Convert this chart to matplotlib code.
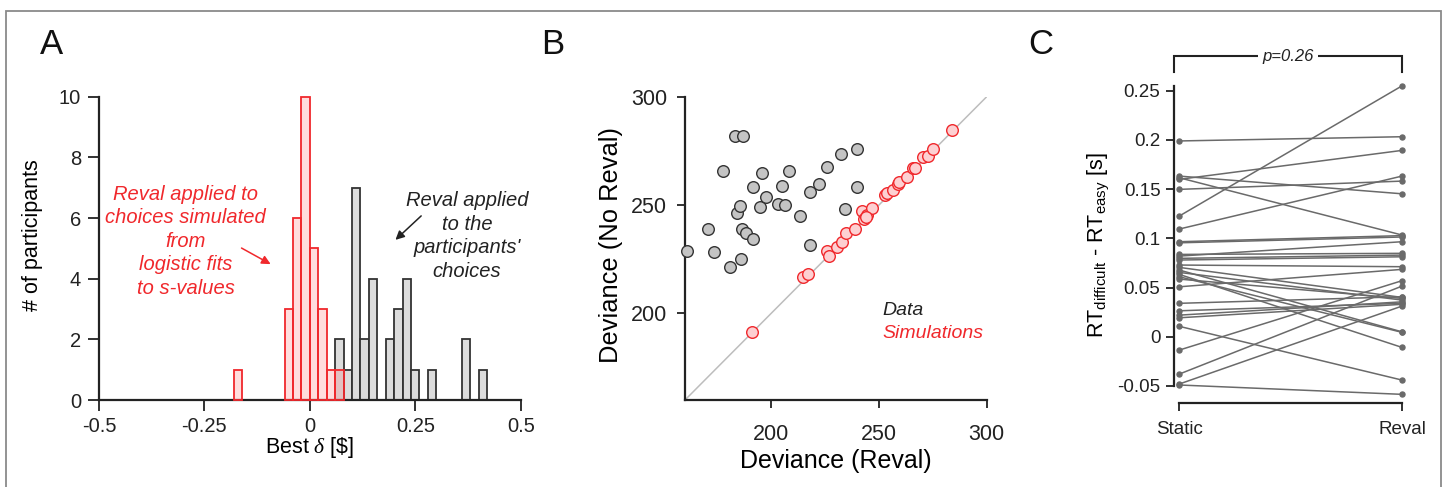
import numpy as np
import matplotlib
matplotlib.use("Agg")
import matplotlib.pyplot as plt
from matplotlib.patches import Rectangle

plt.rcParams['font.family'] = ['Liberation Sans', 'DejaVu Sans']
plt.rcParams['mathtext.fontset'] = 'custom'
plt.rcParams['mathtext.rm'] = 'Liberation Sans'
plt.rcParams['mathtext.it'] = 'Liberation Serif:italic'

# ---------------- data ----------------
# Panel A: histogram of best delta, bins of width 0.02 starting at -0.20
bin_start = -0.20
bin_width = 0.02
sim_counts = [0, 1, 0, 0, 0, 0, 0, 3, 6, 10, 5, 3, 1, 1, 0, 0, 0, 0, 0, 0,
              0, 0, 0, 0, 0, 0, 0, 0, 0, 0, 0]
data_counts = [0, 0, 0, 0, 0, 0, 0, 0, 0, 0, 0, 0, 0, 2, 1, 7, 2, 4, 0, 2,
               3, 4, 1, 0, 1, 0, 0, 0, 2, 0, 1]
delta_ticks = [-0.5, -0.25, 0, 0.25, 0.5]
delta_ticklabels = ['-0.5', '-0.25', '0', '0.25', '0.5']

# Panel B: deviance with and without revaluation
data_dev_reval = [160.8, 170.8, 173.3, 177.8, 180.9, 183.2, 187.1, 184.3, 185.5, 186.3,
                  188.2, 185.8, 191.4, 191.4, 194.8, 195.6, 197.6, 203.3, 204.9, 206.4,
                  208.3, 213.4, 218.0, 218.0, 222.3, 225.7, 232.2, 234.3, 239.7, 239.7]
data_dev_noreval = [228.9, 238.9, 228.3, 265.7, 221.5, 281.8, 281.8, 246.5, 249.7, 238.9,
                    237.2, 224.9, 258.2, 234.5, 248.9, 264.6, 253.5, 250.5, 258.8, 250.0,
                    265.7, 244.9, 256.0, 231.5, 259.5, 267.4, 273.4, 248.3, 276.0, 258.2]
sim_dev_reval = [190.9, 214.9, 217.2, 226.0, 227.0, 230.7, 232.7, 234.7, 238.9, 242.0,
                 243.1, 244.6, 246.6, 243.8, 252.8, 253.6, 256.7, 258.7, 259.3, 263.2,
                 266.0, 266.7, 270.6, 272.6, 274.9, 283.8]
sim_dev_noreval = [191.5, 216.9, 218.2, 228.9, 226.6, 230.8, 233.1, 237.2, 238.8, 247.4,
                   243.4, 245.4, 248.5, 244.5, 254.6, 255.4, 256.9, 259.5, 260.5, 263.1,
                   266.9, 267.2, 272.3, 272.6, 275.7, 284.6]

# Panel C: RT difference per participant
rt_static = [0.199, 0.1633, 0.1616, 0.160, 0.1498, 0.1227, 0.1095, 0.0966, 0.0955, 0.0837,
             0.082, 0.0797, 0.078, 0.0729, 0.0705, 0.0678, 0.0654, 0.0634, 0.061, 0.0586,
             0.0508, 0.034, 0.0264, 0.022, 0.0193, 0.0106, -0.0135, -0.0379, -0.048, -0.049]
rt_reval = [0.2033, 0.1453, 0.1034, 0.1894, 0.1582, 0.255, 0.1633, 0.1028, 0.1014, 0.0848,
            0.0966, 0.083, 0.0813, 0.0712, 0.040, 0.005, 0.0373, -0.0108, 0.0045, 0.039,
            0.0685, 0.0407, 0.034, 0.0355, 0.033, -0.044, 0.057, 0.0515, 0.0312, -0.0585]
conditions = ['Static', 'Reval']
p_text = 'p=0.26'

# ---------------- style ----------------
RED = '#f0282c'
DARK = '#222222'
W, H = 1447, 487

fig = plt.figure(figsize=(W / 100, H / 100), dpi=100)


def px_axes(l, r, b, t):
    return fig.add_axes([l / W, 1 - b / H, (r - l) / W, (b - t) / H])


def style_axes(ax, tick_len, labelsize):
    for s in ('top', 'right'):
        ax.spines[s].set_visible(False)
    for s in ('left', 'bottom'):
        ax.spines[s].set_linewidth(1.6)
        ax.spines[s].set_color(DARK)
    ax.tick_params(direction='out', length=tick_len, width=1.3, color=DARK,
                   labelsize=labelsize, labelcolor='#222222')


# ---------------- panel A ----------------
axA = px_axes(99, 520.7, 400, 96.7)
style_axes(axA, 8, 14.5)
edges = bin_start + bin_width * np.arange(len(data_counts))
dmask = np.array(data_counts) > 0
smask = np.array(sim_counts) > 0
axA.bar(edges[dmask], np.array(data_counts)[dmask], width=bin_width, align='edge',
        facecolor='#dcdcdc', edgecolor='#333333', linewidth=1.3, zorder=2, clip_on=False)
axA.bar(edges[smask], np.array(sim_counts)[smask], width=bin_width, align='edge',
        facecolor=(1.0, 0.35, 0.35, 0.2), edgecolor=RED, linewidth=1.3, zorder=3, clip_on=False)
axA.set_xlim(-0.5, 0.5)
axA.set_ylim(0, 10)
axA.set_xticks(delta_ticks)
axA.set_xticklabels(delta_ticklabels)
axA.set_yticks(range(0, 11, 2))
axA.tick_params(axis='x', pad=4)
axA.tick_params(axis='y', pad=5)
axA.set_ylabel('# of participants', fontsize=15.5)
axA.yaxis.set_label_coords(-0.133, 0.544)
axA.set_xlabel(r'Best $\delta$ [\$]', fontsize=15.5)
axA.xaxis.set_label_coords(0.5, -0.115)

axA.text(-0.294, 5.24, 'Reval applied to\nchoices simulated\nfrom\nlogistic fits\nto s-values',
         color=RED, style='italic', fontsize=14.5, ha='center', va='center', linespacing=1.3)
axA.text(0.373, 5.41, "Reval applied\nto the\nparticipants'\nchoices",
         color='#222222', style='italic', fontsize=14.5, ha='center', va='center', linespacing=1.3)
axA.annotate('', xy=(-0.093, 4.48), xytext=(-0.162, 5.01),
             arrowprops=dict(arrowstyle='-|>', color=RED, lw=1.1, mutation_scale=13,
                             shrinkA=0, shrinkB=0))
axA.annotate('', xy=(0.203, 5.28), xytext=(0.264, 6.07),
             arrowprops=dict(arrowstyle='-|>', color='#222222', lw=1.1, mutation_scale=13,
                             shrinkA=0, shrinkB=0))

# ---------------- panel B ----------------
axB = px_axes(685, 986.7, 400, 96.7)
style_axes(axB, 6, 15.5)
axB.plot([160, 300], [160, 300], color='#bdbdbd', lw=1.1, zorder=1)
axB.scatter(data_dev_reval, data_dev_noreval, s=70, facecolor='#c4c4c4',
            edgecolor='#333333', linewidth=1.0, zorder=3, clip_on=False)
axB.scatter(sim_dev_reval, sim_dev_noreval, s=70, facecolor='#fdd0d2',
            edgecolor=RED, linewidth=1.0, zorder=4, clip_on=False)
axB.set_xlim(160, 300)
axB.set_ylim(160, 300)
axB.set_xticks([200, 250, 300])
axB.set_yticks([200, 250, 300])
axB.tick_params(axis='x', pad=11)
axB.tick_params(axis='y', pad=7)
axB.set_xlabel('Deviance (Reval)', fontsize=18)
axB.xaxis.set_label_coords(0.5, -0.163)
axB.set_ylabel('Deviance (No Reval)', fontsize=18.4)
axB.yaxis.set_label_coords(-0.205, 0.511)
axB.text(251.7, 201.5, 'Data', color='#222222', style='italic', fontsize=14,
         ha='left', va='center')
axB.text(251.7, 190.5, 'Simulations', color=RED, style='italic', fontsize=14,
         ha='left', va='center')

# ---------------- panel C ----------------
axC = px_axes(1174.3, 1408.7, 403.3, 82.9)
style_axes(axC, 6, 13.5)
for s0, s1 in zip(rt_static, rt_reval):
    axC.plot([0, 1], [s0, s1], color='#6a6a6a', lw=1.1, marker='o', ms=3.6,
             mec='#6a6a6a', mfc='#6a6a6a', clip_on=False, zorder=2)
axC.set_xlim(-0.0225, 1.03)
axC.set_ylim(-0.0676, 0.258)
axC.spines['left'].set_bounds(-0.05, 0.255)
axC.spines['bottom'].set_bounds(0, 1)
axC.set_xticks([0, 1])
axC.set_xticklabels(conditions)
axC.set_yticks([-0.05, 0, 0.05, 0.1, 0.15, 0.2, 0.25])
axC.set_yticklabels(['-0.05', '0', '0.05', '0.1', '0.15', '0.2', '0.25'])
axC.tick_params(axis='x', pad=7)
axC.tick_params(axis='y', pad=4)
axC.set_ylabel(r'RT$_\mathrm{difficult}$ - RT$_\mathrm{easy}$ [s]', fontsize=15.5)
axC.yaxis.set_label_coords(-0.27, 0.4925)

# significance bracket
by, bt = 0.2849, 0.269
axC.plot([-0.0225, -0.0225, 1.0, 1.0], [bt, by, by, bt], color=DARK, lw=1.5,
         clip_on=False, solid_joinstyle='miter')
axC.text(0.489, by, p_text, style='italic', fontsize=12, ha='center', va='center',
         color='#222222', bbox=dict(facecolor='white', edgecolor='none', pad=3))

# ---------------- panel letters and frame ----------------
for letter, xp in (('A', 51), ('B', 553), ('C', 1041)):
    fig.text(xp / W, 1 - 45 / H, letter, fontsize=25, ha='center', va='center',
             color='#111111')

fig.patches.append(Rectangle((6 / W, -0.05), (1441 - 6) / W, 1.05 - 11 / H,
                             transform=fig.transFigure, fill=False,
                             edgecolor='#8a8a8a', linewidth=1.3))

fig.savefig('out.png', dpi=100)
